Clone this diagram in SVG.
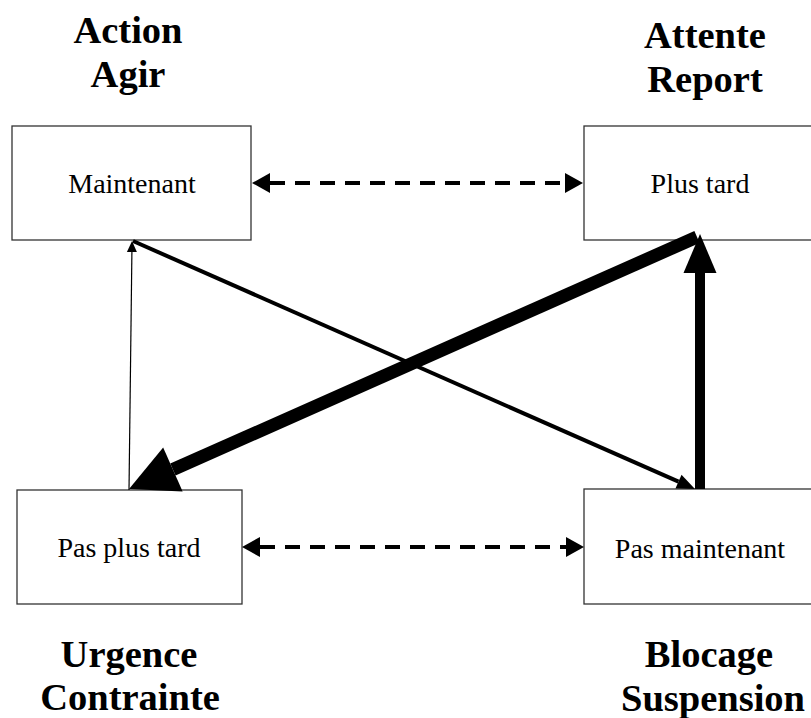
<svg xmlns="http://www.w3.org/2000/svg" width="811" height="718" viewBox="0 0 811 718">
<style>
.box{fill:#fff;stroke:#333;stroke-width:1.3}
.lbl{font-family:"Liberation Serif","Times New Roman",serif;font-size:28px;text-anchor:middle;fill:#000}
.ttl{font-family:"Liberation Serif","Times New Roman",serif;font-size:38.5px;font-weight:bold;text-anchor:middle;fill:#000}
.cn{fill:none;stroke:#000;stroke-linecap:butt}
.dash{stroke-width:4;stroke-dasharray:15 10}
</style>
<defs>
<marker id="hDash" markerUnits="userSpaceOnUse" markerWidth="20" markerHeight="22" refX="0" refY="10" orient="auto-start-reverse" overflow="visible"><path d="M0,0 L18,10 L0,20 z" fill="#000" stroke="none"/></marker>
<marker id="hThin" markerUnits="userSpaceOnUse" markerWidth="12" markerHeight="12" refX="0" refY="5" orient="auto" overflow="visible"><path d="M0,0 L11,5 L0,10 z" fill="#000" stroke="none"/></marker>
<marker id="hMed" markerUnits="userSpaceOnUse" markerWidth="20" markerHeight="16" refX="0" refY="7.5" orient="auto" overflow="visible"><path d="M0,0 L18,7.5 L0,15 z" fill="#000" stroke="none"/></marker>
<marker id="hBig" markerUnits="userSpaceOnUse" markerWidth="50" markerHeight="50" refX="0" refY="24" orient="auto" overflow="visible"><path d="M0,0 L48,24 L0,48 z" fill="#000" stroke="none"/></marker>
<marker id="hVert" markerUnits="userSpaceOnUse" markerWidth="40" markerHeight="34" refX="0" refY="16.5" orient="auto" overflow="visible"><path d="M0,0 L39,16.5 L0,33 z" fill="#000" stroke="none"/></marker>
</defs>

<g id="titles">
<text class="ttl" x="128" y="43">Action</text>
<text class="ttl" x="128" y="87">Agir</text>
<text class="ttl" x="705" y="48">Attente</text>
<text class="ttl" x="705" y="92">Report</text>
<text class="ttl" x="129" y="667">Urgence</text>
<text class="ttl" x="130" y="710">Contrainte</text>
<text class="ttl" x="709" y="667">Blocage</text>
<text class="ttl" x="713" y="711">Suspension</text>
</g>

<g id="node-maintenant">
<rect class="box" x="12" y="126" width="239" height="114"/>
<text class="lbl" x="132" y="193">Maintenant</text>
</g>
<g id="node-plus-tard">
<rect class="box" x="584" y="126" width="232" height="114"/>
<text class="lbl" x="700" y="193">Plus tard</text>
</g>
<g id="node-pas-plus-tard">
<rect class="box" x="17" y="490" width="225" height="114"/>
<text class="lbl" x="129" y="557">Pas plus tard</text>
</g>
<g id="node-pas-maintenant">
<rect class="box" x="584" y="489" width="232" height="115"/>
<text class="lbl" x="700" y="558">Pas maintenant</text>
</g>

<g id="connectors">
<line class="cn dash" x1="270" y1="183" x2="565" y2="183" marker-start="url(#hDash)" marker-end="url(#hDash)"/>
<line class="cn dash" x1="260" y1="547" x2="566" y2="547" marker-start="url(#hDash)" marker-end="url(#hDash)"/>
<line class="cn" stroke-width="1.2" x1="129" y1="490" x2="131.9" y2="252" marker-end="url(#hThin)"/>
<line class="cn" stroke-width="4" x1="133" y1="241" x2="678.5" y2="481.7" marker-end="url(#hMed)"/>
<line class="cn" stroke-width="13" x1="697" y1="237" x2="172.9" y2="469.5" marker-end="url(#hBig)"/>
<line class="cn" stroke-width="10" x1="700" y1="489" x2="700" y2="273" marker-end="url(#hVert)"/>
</g>
</svg>
